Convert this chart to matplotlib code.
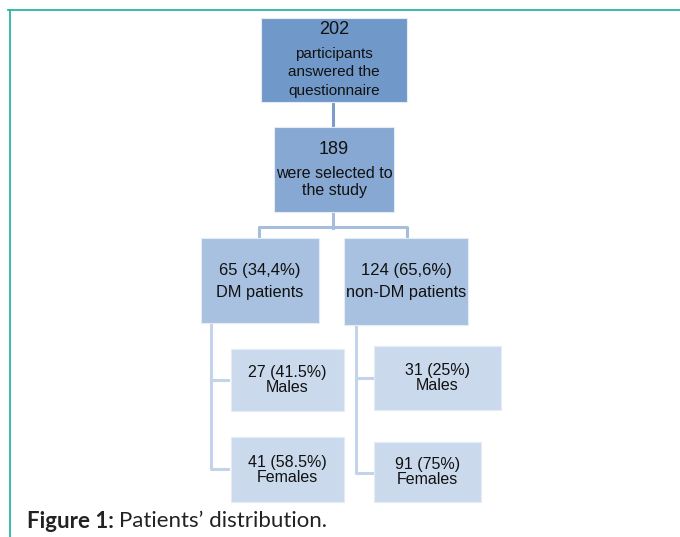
import matplotlib
matplotlib.use("Agg")
import matplotlib.pyplot as plt
from matplotlib.patches import Rectangle

# node texts (top to bottom)
TOP_COUNT = "202"
TOP_TEXT = ["participants", "answered the", "questionnaire"]
SEL_COUNT = "189"
SEL_TEXT = ["were selected to", "the study"]
GROUP_COUNTS = ["65 (34,4%)", "124 (65,6%)"]
GROUP_NAMES = ["DM patients", "non-DM patients"]
LEAF_COUNTS = ["27 (41.5%)", "41 (58.5%)", "31 (25%)", "91 (75%)"]
LEAF_NAMES = ["Males", "Females", "Males", "Females"]

# box geometry in pixel coords: (x0, y0, x1, y1)
TOP_BOX = (261, 18, 407, 102)
SEL_BOX = (274, 127, 394, 212)
GROUP_BOXES = [(201, 238, 319, 323), (344, 238, 468, 325)]
LEAF_BOXES = [(231, 349, 344, 411), (231, 437, 344, 502),
              (374, 346, 501, 410), (374, 442, 481, 502)]

C_TOP, C_SEL, C_GRP, C_LEAF = "#7099c9", "#87a8d2", "#a8c1e0", "#cad9ec"
TEAL = "#2bb5a0"
FONT = "Liberation Sans"

fig = plt.figure(figsize=(6.8, 5.37), dpi=100)
ax = fig.add_axes([0, 0, 1, 1])
ax.set_xlim(0, 680); ax.set_ylim(537, 0); ax.axis("off")


def box(b, color):
    x0, y0, x1, y1 = b
    ax.add_patch(Rectangle((x0, y0), x1 - x0, y1 - y0, facecolor=color,
                           edgecolor="#e4ecf6", lw=0.8, zorder=2))


def txt(x, y, s, size):
    ax.text(x, y, s, ha="center", va="center", fontsize=size, family=FONT,
            color="#111111", zorder=3)


# frame
ax.plot([8, 680], [10, 10], color=TEAL, lw=1.3)
ax.plot([10, 10], [10, 537], color=TEAL, lw=1.3)

# connectors
ax.plot([333, 333], [104, 125], color="#7c9dcc", lw=2.2, zorder=1)
ax.plot([333, 333], [212, 228], color="#a6bddc", lw=2.2, zorder=1)
ax.plot([259, 259, 407, 407], [236, 227, 227, 236], color="#a6bddc", lw=2.2, zorder=1)
for xv, ytop, ym, yb, xr in [(211, 324, 380, 469, 228), (356, 326, 378, 473, 372)]:
    ax.plot([xv, xv, xr], [ytop, yb, yb], color="#c3d3e9", lw=2.2, zorder=1)
    ax.plot([xv, xr], [ym, ym], color="#c3d3e9", lw=2.2, zorder=1)

# top box
box(TOP_BOX, C_TOP)
cx = (TOP_BOX[0] + TOP_BOX[2]) / 2
txt(cx, 29, TOP_COUNT, 13)
for s, y in zip(TOP_TEXT, [54, 72, 91]):
    txt(cx, y, s, 11)

# selected box
box(SEL_BOX, C_SEL)
cx = (SEL_BOX[0] + SEL_BOX[2]) / 2
txt(cx, 149, SEL_COUNT, 13)
for s, y in zip(SEL_TEXT, [174, 191]):
    txt(cx, y, s, 11.5)

# group boxes
for b, c, n in zip(GROUP_BOXES, GROUP_COUNTS, GROUP_NAMES):
    box(b, C_GRP)
    cx = (b[0] + b[2]) / 2
    txt(cx, 270, c, 12)
    txt(cx, 293, n, 11.8)

# leaf boxes
for b, c, n in zip(LEAF_BOXES, LEAF_COUNTS, LEAF_NAMES):
    box(b, C_LEAF)
    cx = (b[0] + b[2]) / 2
    cy = (b[1] + b[3]) / 2
    txt(cx, cy - 7.5, c, 11.5)
    txt(cx, cy + 8, n, 11.5)

# caption
t1 = ax.text(27, 521, "Figure 1:", ha="left", va="center", fontsize=16,
             family="Lato", fontweight="bold", color="#222222")
fig.canvas.draw()
bb = t1.get_window_extent()
ax.annotate("Patients\u2019 distribution.", xy=(bb.x1, 0), xycoords=("figure pixels", "data"),
            xytext=(5, 521), textcoords=("offset pixels", "data"),
            ha="left", va="center", fontsize=16, family="Lato", color="#222222")

fig.savefig("out.png", dpi=100)
